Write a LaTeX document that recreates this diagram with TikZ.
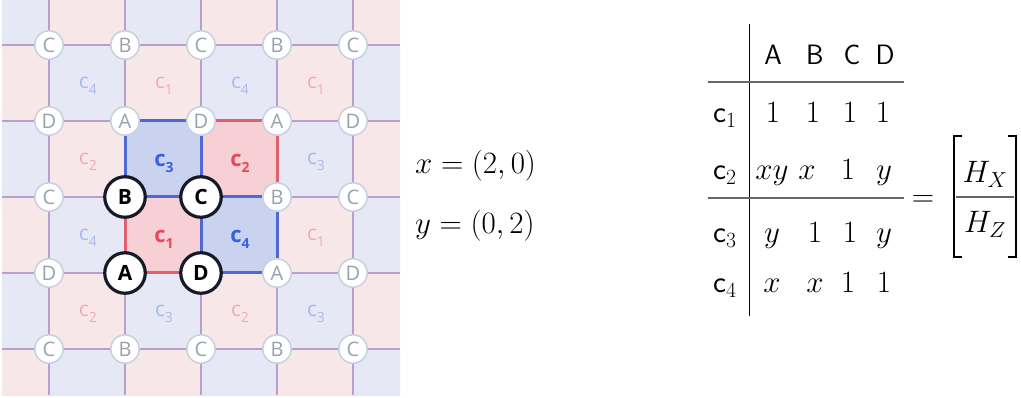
\RequirePackage{fix-cm}
\documentclass[tikz,border=0pt]{standalone}
\usepackage{fontspec}
\newfontfamily\latfont{Open Sans}
\definecolor{bgblue}{HTML}{E6E9F5}
\definecolor{bgpink}{HTML}{F8E7E9}
\definecolor{gridc}{HTML}{B7A0CC}
\definecolor{hbluefill}{HTML}{C9D3F0}
\definecolor{hredfill}{HTML}{F6D0D4}
\definecolor{hblue}{HTML}{4F68D4}
\definecolor{hred}{HTML}{E2606E}
\definecolor{lblblue}{HTML}{A9B8EE}
\definecolor{lblpink}{HTML}{F3A9B1}
\definecolor{dblue}{HTML}{3B62DC}
\definecolor{dred}{HTML}{E8485A}
\definecolor{vborder}{HTML}{C9D2DF}
\definecolor{vtext}{HTML}{9AA1AC}
\definecolor{hborder}{HTML}{151A26}
\definecolor{rulegray}{HTML}{666666}
\newcommand{\clab}[1]{c\raisebox{-0.5ex}{\fontsize{14}{14}\selectfont #1}}
\begin{document}
\begin{tikzpicture}[x=1pt,y=-1pt,
  vtx/.style={circle,draw=vborder,fill=white,line width=1.6pt,minimum size=28.4pt,inner sep=0pt,text=vtext,font=\latfont\fontsize{20}{20}\selectfont},
  hvtx/.style={circle,draw=hborder,fill=white,line width=3.2pt,minimum size=40.5pt,inner sep=0pt,text=black,font=\latfont\bfseries\fontsize{21}{21}\selectfont},
  celllbl/.style={inner sep=0pt,font=\latfont\fontsize{21}{21}\selectfont},
  hcelllbl/.style={inner sep=0pt,font=\latfont\bfseries\fontsize{22}{22}\selectfont},
  gridline/.style={draw=gridc,line width=1.5pt},
  tab/.style={anchor=base,inner sep=0pt,font=\fontsize{31}{36}\selectfont},
  rowlbl/.style={anchor=base west,inner sep=0pt,font=\fontsize{31}{36}\selectfont},
  hdr/.style={anchor=base,inner sep=0pt,font=\sffamily\fontsize{28}{32}\selectfont},
  hrule/.style={draw=rulegray,line width=1.3pt},
  vrule/.style={draw=black,line width=0.9pt},
  brk/.style={draw=black,line width=1.8pt}]
\useasboundingbox (0,0) rectangle (1021,398);
% ---------- lattice background ----------
\begin{scope}
\clip (2,0) rectangle (400,395);
\foreach \c in {-1,...,4}{
  \foreach \r in {-1,...,4}{
    \pgfmathtruncatemacro\p{\c+\r+4}
    \ifodd\p
      \fill[bgpink] ({49+76*\c},{45+76*\r}) rectangle ++(76,76);
    \else
      \fill[bgblue] ({49+76*\c},{45+76*\r}) rectangle ++(76,76);
    \fi
  }
}
\foreach \i in {0,...,4}{
  \draw[gridline] ({49+76*\i},0) -- ({49+76*\i},395);
  \draw[gridline] (2,{45+76*\i}) -- (400,{45+76*\i});
}
\end{scope}
% ---------- highlighted cells ----------
\fill[hredfill] (201,121) rectangle (277,197);
\fill[hredfill] (125,197) rectangle (201,273);
\fill[hbluefill] (125,121) rectangle (201,197);
\fill[hbluefill] (201,197) rectangle (277,273);
\draw[hred,line width=3pt] (201,121) rectangle (277,197);
\draw[hred,line width=3pt] (125,197) rectangle (201,273);
\draw[hblue,line width=3pt] (125,121) rectangle (201,197);
\draw[hblue,line width=3pt] (201,197) rectangle (277,273);
% ---------- cell labels ----------
\foreach \c in {0,...,3}{
  \foreach \r in {0,...,3}{
    \pgfmathtruncatemacro\hl{(\c>0)*(\c<3)*(\r>0)*(\r<3)}
    \ifnum\hl=0
      \ifodd\r
        \ifodd\c \def\L{3}\def\C{lblblue}\else\def\L{2}\def\C{lblpink}\fi
      \else
        \ifodd\c \def\L{1}\def\C{lblpink}\else\def\L{4}\def\C{lblblue}\fi
      \fi
      \node[celllbl,text=\C] (cl\c\r) at ({88+76*\c},{86+76*\r}) {\clab{\L}};
    \fi
  }
}
\node[hcelllbl,text=dblue] (hc3) at (164,163) {\clab{3}};
\node[hcelllbl,text=dred] (hc2) at (240,163) {\clab{2}};
\node[hcelllbl,text=dred] (hc1) at (164,239) {\clab{1}};
\node[hcelllbl,text=dblue] (hc4) at (240,239) {\clab{4}};
% ---------- vertices ----------
\foreach \j in {0,...,4}{
  \foreach \i in {0,...,4}{
    \ifodd\j
      \ifodd\i \def\L{A}\else\def\L{D}\fi
    \else
      \ifodd\i \def\L{B}\else\def\L{C}\fi
    \fi
    \pgfmathtruncatemacro\hl{(\i>0)*(\i<3)*(\j>1)*(\j<4)}
    \ifnum\hl=0
      \node[vtx] (v\i\j) at ({49+76*\i},{45+76*\j}) {\L};
    \fi
  }
}
\node[hvtx] (v12) at (125,197) {B};
\node[hvtx] (v22) at (201,197) {C};
\node[hvtx] (v13) at (125,273) {A};
\node[hvtx] (v23) at (201,273) {D};
% ---------- translation vectors ----------
\node[anchor=base west,inner sep=0pt,font=\fontsize{31}{36}\selectfont] (ex) at (415,174) {$x=(2,0)$};
\node[anchor=base west,inner sep=0pt,font=\fontsize{31}{36}\selectfont] (ey) at (415,234) {$y=(0,2)$};
% ---------- table ----------
\node[hdr] (hA) at (773,65) {A};
\node[hdr] (hB) at (815,65) {B};
\node[hdr] (hC) at (852,65) {C};
\node[hdr] (hD) at (885,65) {D};
\node[rowlbl] (r1) at (713,123) {$\mathsf{c}_1$};
\node[rowlbl] (r2) at (713,180) {$\mathsf{c}_2$};
\node[rowlbl] (r3) at (713,243) {$\mathsf{c}_3$};
\node[rowlbl] (r4) at (713,293) {$\mathsf{c}_4$};
\node[tab] (a11) at (773,123) {$1$};
\node[tab] (a12) at (813,123) {$1$};
\node[tab] (a13) at (850,123) {$1$};
\node[tab] (a14) at (883,123) {$1$};
\node[tab] (a21) at (772,180) {$xy$};
\node[tab] (a22) at (807,180) {$x$};
\node[tab] (a23) at (848,180) {$1$};
\node[tab] (a24) at (884,180) {$y$};
\node[tab] (a31) at (772,243) {$y$};
\node[tab] (a32) at (815,243) {$1$};
\node[tab] (a33) at (850,243) {$1$};
\node[tab] (a34) at (884,243) {$y$};
\node[tab] (a41) at (772,293) {$x$};
\node[tab] (a42) at (815,293) {$x$};
\node[tab] (a43) at (848,293) {$1$};
\node[tab] (a44) at (884,293) {$1$};
\coordinate (vt) at (749,24);
\coordinate (vb) at (749,316);
\draw[vrule] (vt) -- (vb);
\coordinate (h1l) at (708,82);
\coordinate (h1r) at (904,82);
\coordinate (h2l) at (708,198);
\coordinate (h2r) at (904,198);
\draw[hrule] (h1l) -- (h1r);
\draw[hrule] (h2l) -- (h2r);
% ---------- equals and block matrix ----------
\node[tab] (eq) at (923,207) {$=$};
\node[tab] (HX) at (985,183) {$H_X$};
\node[tab] (HZ) at (985,233) {$H_Z$};
\coordinate (bl1) at (962,136);
\coordinate (bl2) at (954,136);
\coordinate (bl3) at (954,257);
\coordinate (bl4) at (962,257);
\coordinate (br1) at (1008,136);
\coordinate (br2) at (1016,136);
\coordinate (br3) at (1016,257);
\coordinate (br4) at (1008,257);
\draw[brk] (bl1) -- (bl2) -- (bl3) -- (bl4);
\draw[brk] (br1) -- (br2) -- (br3) -- (br4);
\coordinate (ml) at (956,197);
\coordinate (mr) at (1014,197);
\draw[hrule] (ml) -- (mr);
\end{tikzpicture}
\end{document}
